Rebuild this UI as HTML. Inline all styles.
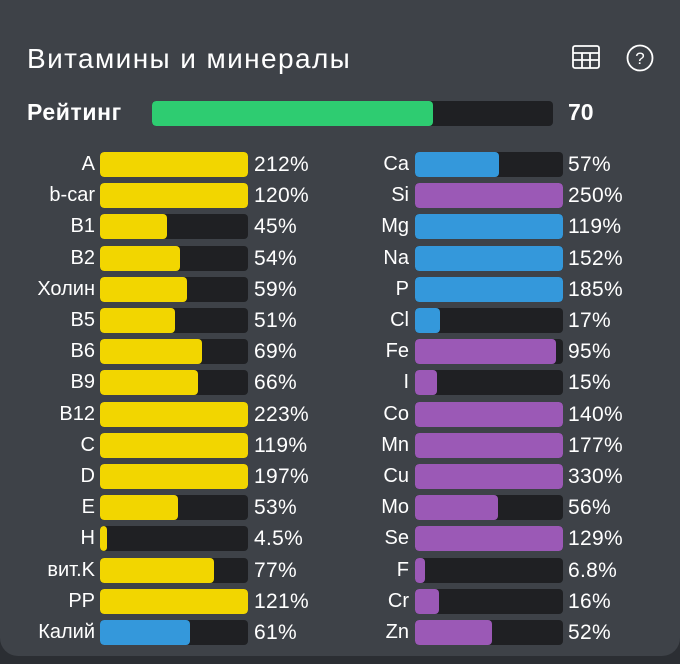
<!DOCTYPE html>
<html><head><meta charset="utf-8"><style>
html,body{margin:0;padding:0;}
body{width:680px;height:664px;background:#2b2e33;position:relative;overflow:hidden;font-family:"Liberation Sans",sans-serif;color:#fff;}
.panel{position:absolute;left:0;top:-20px;width:680px;height:676px;background:#3e4248;border-radius:0 0 18px 18px;}
.t{position:absolute;white-space:nowrap;}
.track{position:absolute;height:25px;background:#1f2023;border-radius:4px;overflow:hidden;}
.fill{height:100%;border-radius:4px;}
.lbl{position:absolute;font-size:20px;text-align:right;width:120px;line-height:25px;}
.pct{position:absolute;font-size:21px;line-height:25px;letter-spacing:0.3px;}
</style></head><body>
<div class="panel"></div>
<div class="t" style="left:27px;top:43px;font-size:28px;letter-spacing:1.4px;">Витамины и минералы</div>
<svg style="position:absolute;left:571px;top:44px" width="30" height="28" viewBox="0 0 30 28" fill="none" stroke="#fff" stroke-width="1.8">
<rect x="2" y="2" width="26" height="22" rx="2"/><line x1="2" y1="9" x2="28" y2="9"/><line x1="2" y1="16" x2="28" y2="16"/><line x1="11" y1="9" x2="11" y2="24"/><line x1="19" y1="9" x2="19" y2="24"/></svg>
<svg style="position:absolute;left:625px;top:43px" width="30" height="30" viewBox="0 0 30 30"><circle cx="15" cy="15" r="12.5" fill="none" stroke="#fff" stroke-width="1.8"/><text x="15" y="21" text-anchor="middle" font-size="17" fill="#fff" font-family="Liberation Sans">?</text></svg>
<div class="t" style="left:27px;top:99px;font-size:23px;font-weight:bold;letter-spacing:0.6px;">Рейтинг</div>
<div class="track" style="left:152px;top:101px;width:401px;"><div class="fill" style="width:281px;background:#2ecc71"></div></div>
<div class="t" style="left:568px;top:99px;font-size:23px;font-weight:bold;">70</div>
<div id="rows"></div>
<script>
var L=[["A",212,"y"],["b-car",120,"y"],["B1",45,"y"],["B2",54,"y"],["Холин",59,"y"],["B5",51,"y"],["B6",69,"y"],["B9",66,"y"],["B12",223,"y"],["C",119,"y"],["D",197,"y"],["E",53,"y"],["H",4.5,"y"],["вит.K",77,"y"],["PP",121,"y"],["Калий",61,"b"]];
var R=[["Ca",57,"b"],["Si",250,"p"],["Mg",119,"b"],["Na",152,"b"],["P",185,"b"],["Cl",17,"b"],["Fe",95,"p"],["I",15,"p"],["Co",140,"p"],["Mn",177,"p"],["Cu",330,"p"],["Mo",56,"p"],["Se",129,"p"],["F",6.8,"p"],["Cr",16,"p"],["Zn",52,"p"]];
var C={y:"#f2d600",b:"#3498db",p:"#9b59b6"};
var h="";
function row(d,i,lx,bx,px){var y=152+i*31.2;var w=Math.max(6,Math.min(1,d[1]/100)*148);
h+='<div class="lbl" style="left:'+(lx-120)+'px;top:'+y+'px">'+d[0]+'</div>';
h+='<div class="track" style="left:'+bx+'px;top:'+y+'px;width:148px"><div class="fill" style="width:'+w+'px;background:'+C[d[2]]+'"></div></div>';
h+='<div class="pct" style="left:'+px+'px;top:'+y+'px">'+d[1]+'%</div>';}
L.forEach(function(d,i){row(d,i,95,100,254)});
R.forEach(function(d,i){row(d,i,409,415,568)});
document.getElementById("rows").innerHTML=h;
</script>
</body></html>
